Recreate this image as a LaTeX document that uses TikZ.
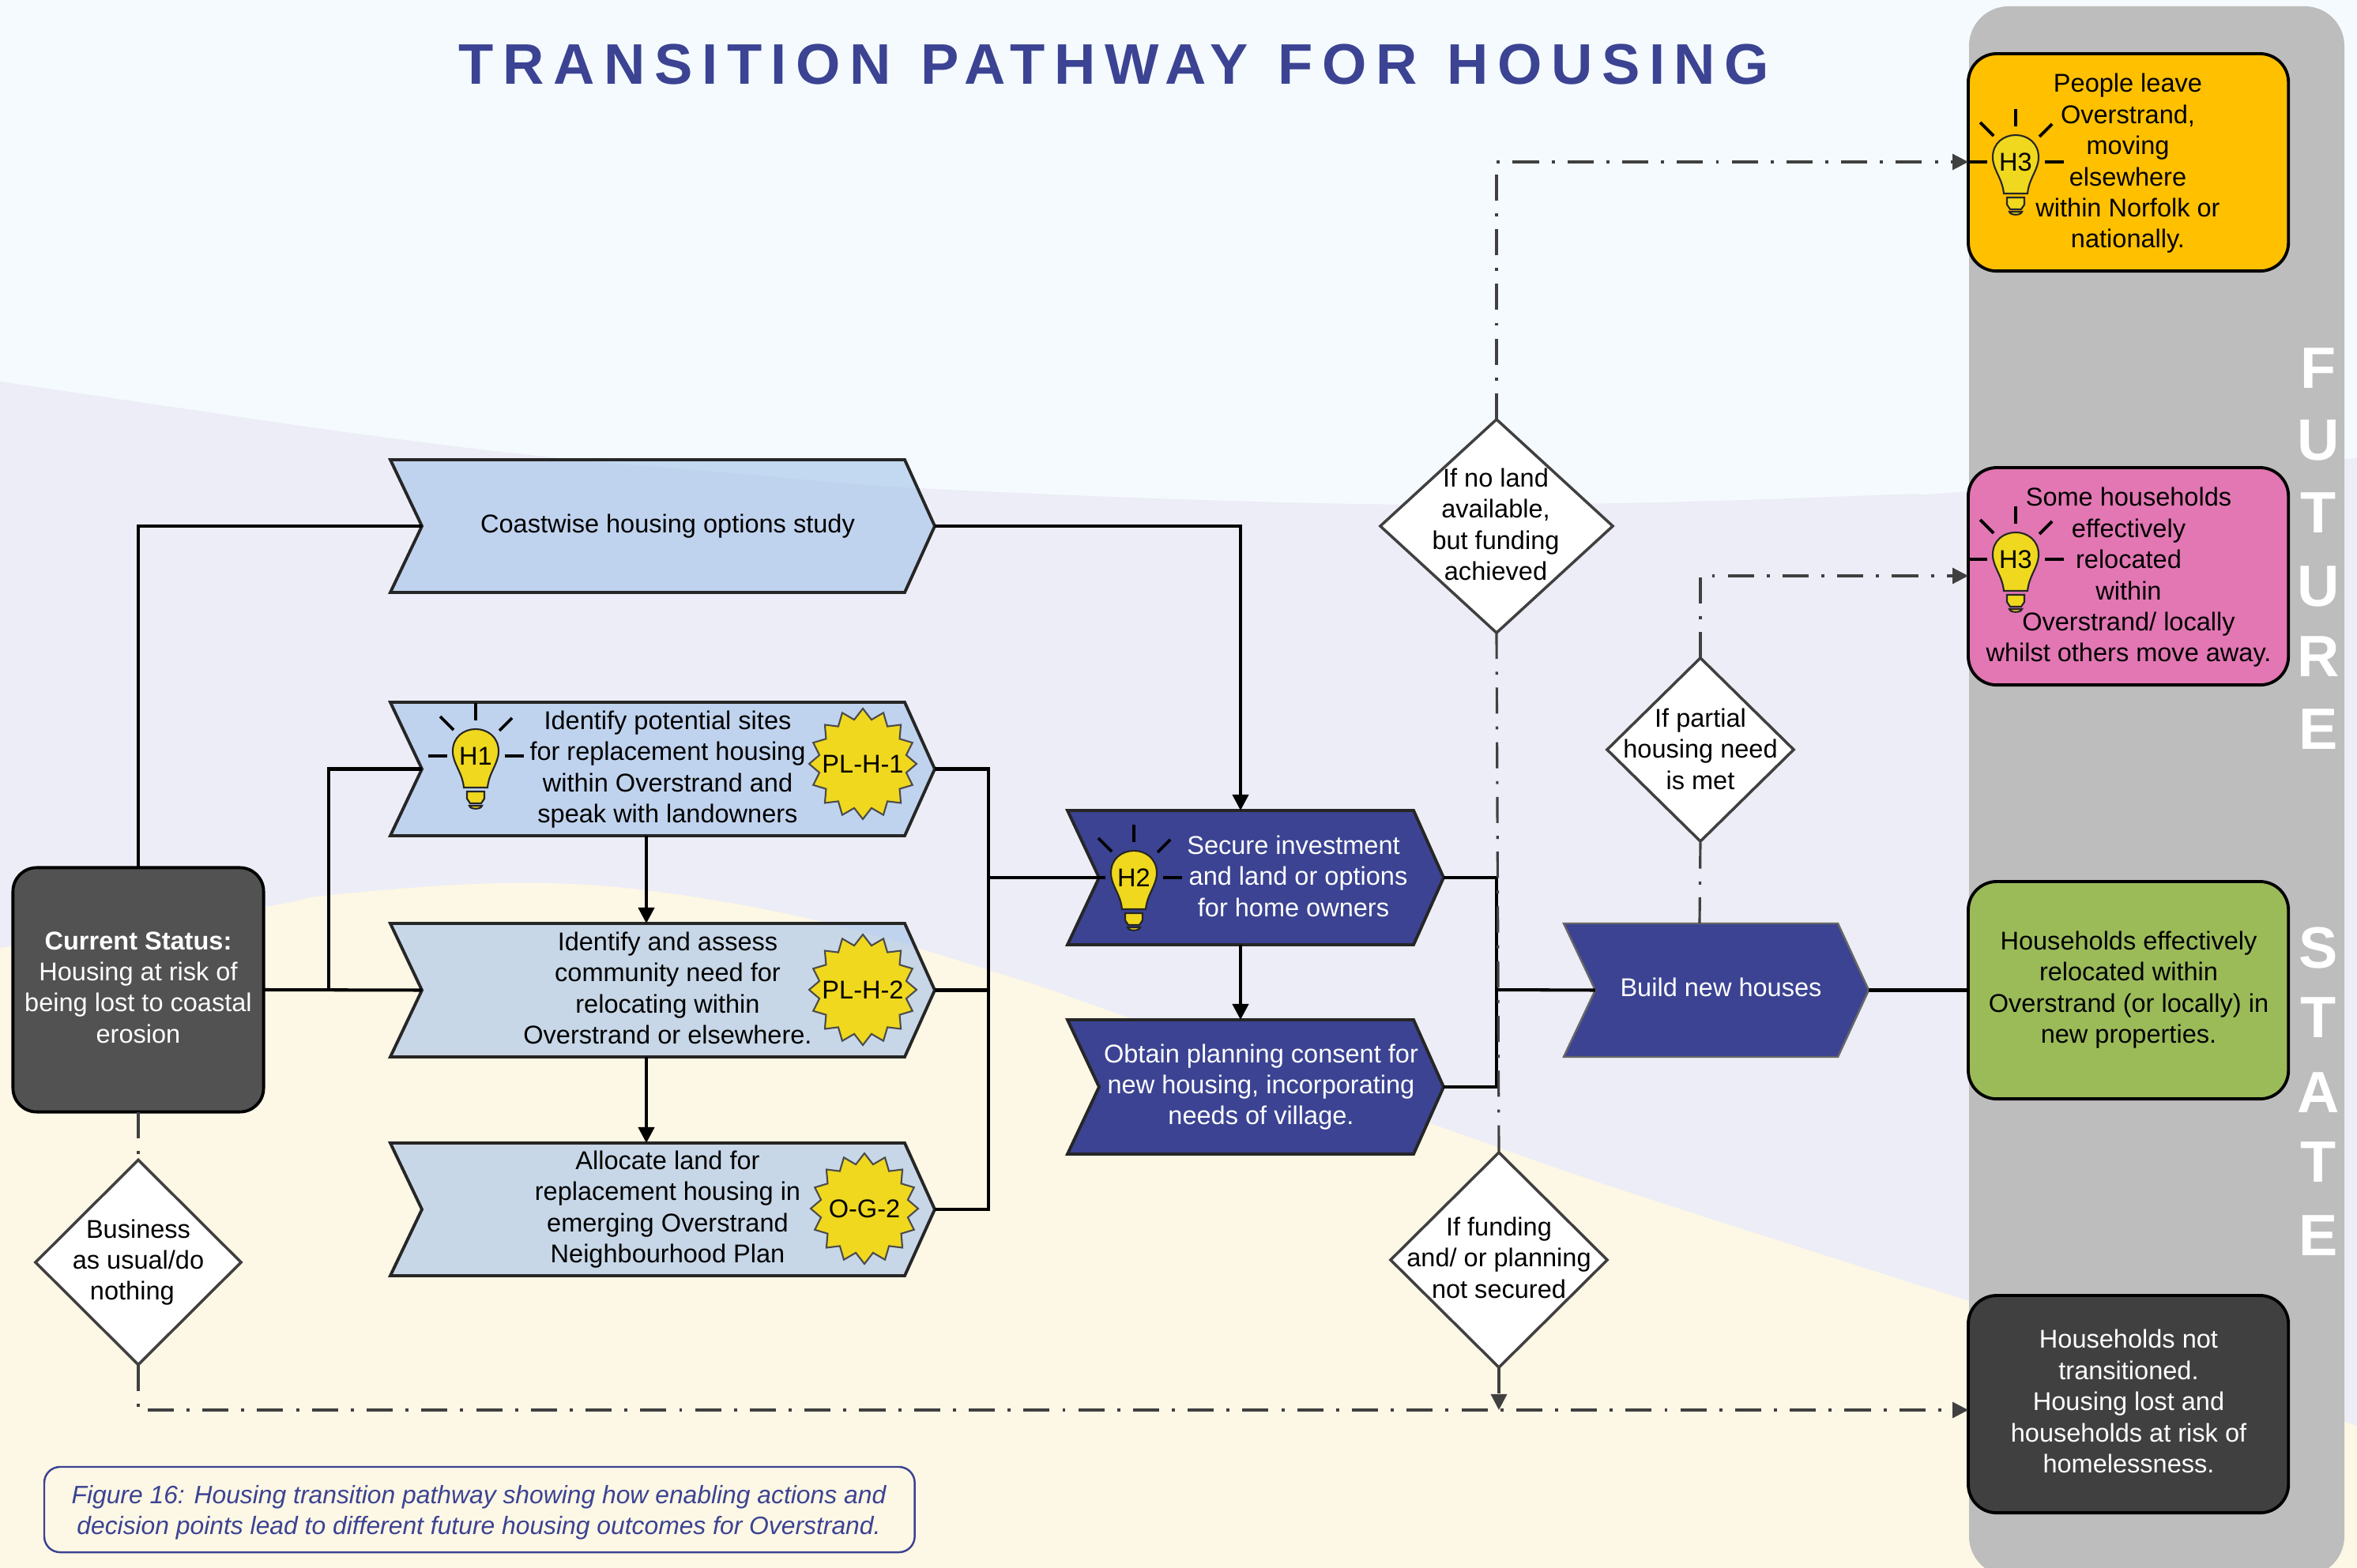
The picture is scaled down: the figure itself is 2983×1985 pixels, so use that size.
\documentclass[tikz,border=0pt]{standalone}
\usepackage{fontspec}
\setmainfont{Liberation Sans}
\usetikzlibrary{arrows.meta,shapes.geometric,calc}
\definecolor{skybg}{HTML}{F4FAFE}
\definecolor{lavbg}{HTML}{ECEDF6}
\definecolor{creambg}{HTML}{FDF7E5}
\definecolor{panelgrey}{HTML}{BDBDBD}
\definecolor{navy}{HTML}{3B4392}
\definecolor{chevblue}{HTML}{A3C3E9}
\definecolor{seal}{HTML}{F0D81E}
\definecolor{darkbox}{HTML}{404040}
\definecolor{statusbox}{HTML}{525252}
\definecolor{dashgrey}{HTML}{404040}
\definecolor{amberbox}{HTML}{FFC000}
\definecolor{pinkbox}{HTML}{E277B3}
\definecolor{greenbox}{HTML}{9BBB59}
\tikzset{
  x=0.01cm, y=-0.01cm,
  bodytext/.style={font=\fontsize{9.25}{11.2}\selectfont, align=center, inner sep=0pt},
  whitetext/.style={bodytext, text=white},
  flow/.style={draw=black, line width=1.15pt, line join=miter},
  flowarrow/.style={flow, -{Triangle[length=0.2cm,width=0.2cm]}},
  maybe/.style={draw=dashgrey, line width=0.9pt, dash pattern=on 9.4pt off 4.6pt on 1.1pt off 4.6pt},
  maybearrow/.style={maybe, -{Triangle[length=0.2cm,width=0.2cm,fill=dashgrey]}},
  chevlight/.style={draw=black!85, line width=1.1pt, fill=chevblue, fill opacity=0.6, line join=miter},
  chevnavy/.style={draw=black!85, line width=1.1pt, fill=navy, line join=miter},
  chevnavythin/.style={draw=black!60, line width=0.7pt, fill=navy, line join=miter},
  decision/.style={shape=diamond, draw=black!75, line width=1pt, fill=white, inner sep=0pt, outer sep=0pt},
  outcome/.style={rectangle, rounded corners=0.36cm, draw=black, line width=1.1pt, minimum width=4.05cm, minimum height=2.75cm, inner sep=0pt, outer sep=0pt},
  sealpoly/.style={draw=black!70, line width=0.6pt, fill=seal},
  bulbline/.style={draw=black!85, line width=0.6pt, fill=seal},
  rayline/.style={draw=black, line width=1.1pt},
  lettering/.style={text=white, font=\fontsize{21}{21}\bfseries\selectfont, inner sep=0pt, anchor=center},
}
% chevron: name, style, left x, notch x, shoulder x, tip x, top y, bottom y
\newcommand{\chevron}[8]{%
  \path[#2] (#3,#7) -- (#5,#7) -- (#6,{(#7+#8)/2}) -- (#5,#8) -- (#3,#8) -- (#4,{(#7+#8)/2}) -- cycle;
  \coordinate (#1-in) at (#4,{(#7+#8)/2});
  \coordinate (#1-out) at (#6,{(#7+#8)/2});
}
% bulb: centre x, centre y, label
\newcommand{\bulb}[3]{%
  \begin{scope}[shift={(#1,#2)}]
    \path[bulbline] (-15,40) .. controls (-17,20) and (-29,10) .. (-29,-6)
       .. controls (-29,-24) and (-15,-34) .. (0,-34)
       .. controls (15,-34) and (29,-24) .. (29,-6)
       .. controls (29,10) and (17,20) .. (15,40) -- cycle;
    \path[bulbline] (-11,45) -- (11,45) -- (11,54) -- (7,60) -- (-7,60) -- (-11,54) -- cycle;
    \path[bulbline] (-8,63) -- (8,63) .. controls (7,68) and (-7,68) .. (-8,63) -- cycle;
    \draw[rayline] (0,-67) -- (0,-45);
    \draw[rayline] (-45,-50) -- (-28,-33);
    \draw[rayline] (46,-48) -- (30,-32);
    \draw[rayline] (-60,0) -- (-36,0);
    \draw[rayline] (37,0) -- (61,0);
  \end{scope}
  \node[bodytext] (bulb#3) at (#1,#2) {#3};
}
% seal: centre x, centre y, label
\newcommand{\sealmark}[3]{%
  \path[sealpoly] plot[samples at={0,...,31}] ({#1+(mod(\x,2)==0?68:56)*cos(\x*11.25)},{#2+(mod(\x,2)==0?70:57)*sin(\x*11.25)}) -- cycle;
  \node[bodytext] (seal#3) at (#1,#2) {#3};
}
\begin{document}
\begin{tikzpicture}
\useasboundingbox (0,0) rectangle (2983,1985);
% backgrounds
\fill[skybg] (0,0) rectangle (2983,1985);
\fill[lavbg] plot[smooth, tension=0.6] coordinates {(0,483) (230,517) (459,550) (689,578) (918,598) (1148,617) (1492,632) (1800,639) (2100,636) (2400,626) (2492,622) (2983,580)} -- (2983,1985) -- (0,1985) -- cycle;
\fill[creambg] plot[smooth, tension=0.6] coordinates {(0,1200) (335,1148) (418,1133) (633,1118) (817,1127) (1041,1167) (1280,1237) (1428,1288) (1810,1422) (2033,1500) (2400,1618) (2492,1647) (2983,1805)} -- (2983,1985) -- (0,1985) -- cycle;
% panel
\fill[panelgrey, rounded corners=0.5cm] (2492,8) rectangle (2967,1995);
\node[inner sep=0pt, text=navy, font=\fontsize{20.6}{26}\bfseries\selectfont] (title) at (1410,82) {\addfontfeature{LetterSpace=16}\spaceskip=0.52em TRANSITION PATHWAY FOR HOUSING};
\foreach \c/\yy [count=\i] in {F/466,U/557,T/649,U/742,R/831,E/923,S/1200,T/1288,A/1383,T/1471,E/1564}
  \node[lettering] (letter\i) at (2934,\yy) {\c};

\chevron{coast}{chevlight}{494}{534}{1145}{1183}{582}{750}
\chevron{hone}{chevlight}{494}{534}{1145}{1183}{889}{1058}
\chevron{assess}{chevlight}{494}{534}{1145}{1183}{1169}{1338}
\chevron{alloc}{chevlight}{494}{534}{1145}{1183}{1447}{1615}
\chevron{secure}{chevnavy}{1351}{1391}{1789}{1827}{1026}{1196}
\chevron{obtain}{chevnavy}{1351}{1391}{1789}{1827}{1291}{1461}
\chevron{build}{chevnavythin}{1979}{2019}{2326}{2365}{1169}{1338}

\node[rectangle, rounded corners=0.3cm, draw=black, line width=1.1pt, fill=statusbox, text=white, minimum width=3.17cm, minimum height=3.09cm, inner sep=0pt, outer sep=0pt, align=center, font=\fontsize{9.25}{11.2}\selectfont] (status) at (175,1253) {};

\node[outcome, fill=amberbox, anchor=north west] (leave) at (2491,68) {};
\node[outcome, fill=pinkbox, anchor=north west] (partial) at (2491,592) {};
\node[outcome, fill=greenbox, anchor=north west] (relocated) at (2491,1116) {};
\node[outcome, fill=darkbox, anchor=north west] (lost) at (2491,1640) {};

\node[decision, minimum width=2.94cm, minimum height=2.70cm, aspect=1.09] (noland) at (1894,666) {};
\node[decision, minimum width=2.36cm, minimum height=2.32cm, aspect=1.02] (partneed) at (2152,949) {};
\node[decision, minimum width=2.74cm, minimum height=2.72cm, aspect=1.0] (funding) at (1897,1595) {};
\node[decision, minimum width=2.60cm, minimum height=2.59cm, aspect=1.0] (bau) at (175,1598) {};

\coordinate (mergeA) at (1251,1111);
\coordinate (mergeB) at (1894,1253);
\coordinate (branch) at (416,1253);
\coordinate (securetop) at (1570,1026);
\coordinate (securebot) at (1570,1196);
\coordinate (obtaintop) at (1570,1291);
\coordinate (honebot) at (818,1058);
\coordinate (assesstop) at (818,1169);
\coordinate (assessbot) at (818,1338);
\coordinate (alloctop) at (818,1447);
\coordinate (landturn) at (1894,205);
\coordinate (partturn) at (2152,729);
\coordinate (bottomturn) at (175,1785);
\coordinate (fundstop) at (1897,1785);
\coordinate (buildtop) at (2151,1169);

% connectors
\draw[flow] (status.north) |- (coast-in);
\draw[flow] (status.east) -- (assess-in);
\draw[flow] (branch) |- (hone-in);
\draw[flowarrow] (coast-out) -| (securetop);
\draw[flowarrow] (honebot) -- (assesstop);
\draw[flowarrow] (assessbot) -- (alloctop);
\draw[flow] (hone-out) -| (mergeA);
\draw[flow] (assess-out) -- (assess-out -| mergeA);
\draw[flow] (alloc-out) -| (mergeA);
\draw[flow] (mergeA) -- (secure-in);
\draw[flowarrow] (securebot) -- (obtaintop);
\draw[flow] (secure-out) -| (mergeB);
\draw[flow] (obtain-out) -| (mergeB);
\draw[flow] (mergeB) -- (build-in);
\draw[flow] (build-out) -- (build-out -| relocated.west);
\draw[maybearrow] (noland.north) |- (landturn -| leave.west);
\draw[maybe] (noland.south) -- (funding.north);
\draw[maybearrow] (funding.south) -- (fundstop);
\draw[maybe] (status.south) -- (bau.north);
\draw[maybearrow] (bau.south) |- (bottomturn -| lost.west);
\draw[maybe] (buildtop) -- (partneed.south);
\draw[maybearrow] (partneed.north) |- (partturn -| partial.west);

% texts
\node[bodytext, text=white] (statustext) at (175,1250) {\textbf{Current Status:}\\Housing at risk of\\being lost to coastal\\erosion};
\node[bodytext] (coasttext) at (845,666) {Coastwise housing options study};
\node[bodytext] (honetext) at (845,974) {Identify potential sites\\for replacement housing\\within Overstrand and\\speak with landowners};
\node[bodytext] (assesstext) at (845,1251) {Identify and assess\\community need for\\relocating within\\Overstrand or elsewhere.};
\node[bodytext] (alloctext) at (845,1531) {Allocate land for\\replacement housing in\\emerging Overstrand\\Neighbourhood Plan};
\node[whitetext] (securetext) at (1637,1109) {Secure investment\\\mbox{\hspace{0.37em}and land or options}\\for home owners};
\node[whitetext] (obtaintext) at (1596,1376) {Obtain planning consent for\\new housing, incorporating\\needs of village.};
\node[whitetext] (buildtext) at (2178,1250) {Build new houses};

\node[bodytext] (leavetext) at (2693,207) {People leave\\Overstrand,\\moving\\elsewhere\\within Norfolk or\\nationally.};
\node[bodytext] (partialtext) at (2694,731) {Some households\\effectively\\relocated\\within\\Overstrand/ locally\\whilst others move away.};
\node[bodytext] (relocatedtext) at (2694,1253) {Households effectively\\relocated within\\Overstrand (or locally) in\\new properties.};
\node[whitetext] (losttext) at (2694,1774) {Households not\\transitioned.\\Housing lost and\\households at risk of\\homelessness.};

\node[bodytext] (nolandtext) at (1893,664) {If no land\\available,\\but funding\\achieved};
\node[bodytext] (partneedtext) at (2152,948) {If partial\\housing need\\is met};
\node[bodytext] (fundingtext) at (1897,1592) {If funding\\and/ or planning\\not secured};
\node[bodytext] (bautext) at (175,1598) {Business\\as usual/do\\\mbox{nothing\hspace{0.47em}}};

\bulb{602}{957}{H1}
\bulb{1435}{1111}{H2}
\bulb{2551}{205}{H3}
\bulb{2551}{708}{H3}
\sealmark{1092}{967}{PL-H-1}
\sealmark{1092}{1253}{PL-H-2}
\sealmark{1094}{1530}{O-G-2}

\node[rectangle, rounded corners=0.2cm, draw=navy, line width=0.7pt, fill=creambg, text=navy, minimum width=11.01cm, minimum height=1.08cm, inner sep=0pt, outer sep=0pt, anchor=north west] (captionbox) at (56,1857) {};
\node[inner sep=0pt, text=navy, align=center, font=\fontsize{9.05}{11.2}\itshape\selectfont] (caption) at (606,1915) {Figure 16: Housing transition pathway showing how enabling actions and\\decision points lead to different future housing outcomes for Overstrand.};
\end{tikzpicture}
\end{document}
